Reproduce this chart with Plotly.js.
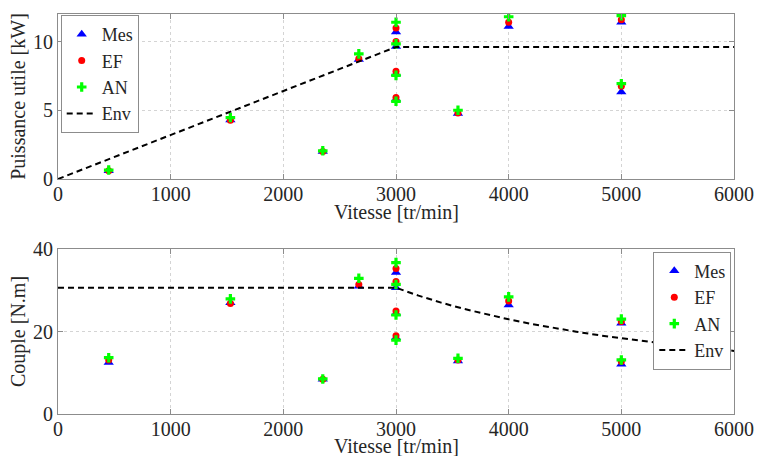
<!DOCTYPE html>
<html>
<head>
<meta charset="utf-8">
<script src="https://cdn.plot.ly/plotly-3.0.1.min.js"></script>
<style>html,body{margin:0;padding:0;background:#fff;}#chart{width:757px;height:456px;}</style>
</head>
<body>
<div id="chart"></div>
<script>
// Speeds [tr/min]
const speed = [450, 1530, 2350, 2670, 3000, 3000, 3000, 3000, 3550, 4000, 5000, 5000];
// Power [kW]
const powerMes = [0.6, 4.3, 2.0, 8.7, 10.7, 9.64, 7.65, 5.8, 4.77, 11.09, 11.4, 6.33];
const powerEF  = [0.6, 4.28, 2.0, 8.75, 10.99, 10.0, 7.83, 5.92, 4.8, 11.4, 11.59, 6.74];
const powerAN  = [0.65, 4.47, 2.05, 9.1, 11.4, 9.83, 7.54, 5.65, 5.0, 11.8, 11.88, 6.93];
// Torque [N.m]
const torqueMes = [12.5, 27.0, 8.4, 31.0, 34.3, 30.6, 24.4, 18.5, 12.85, 26.4, 22.0, 12.05];
const torqueEF  = [13.1, 26.8, 8.4, 31.4, 35.3, 32.1, 25.0, 19.0, 13.1, 27.4, 22.4, 12.7];
const torqueAN  = [13.65, 27.9, 8.5, 32.9, 36.7, 31.4, 24.0, 17.9, 13.5, 28.4, 23.0, 13.1];
// Envelope
const envPowerSpeed = [0, 3000, 6000];
const envPower = [0, 9.6, 9.6];
const envTorqueSpeed = [0, 3000, 3200, 3400, 3600, 3800, 4000, 4200, 4400, 4600, 4800, 5000, 5200, 5400, 5600, 5800, 6000];
const envTorque = [30.6, 30.6, 28.7, 27.0, 25.5, 24.2, 22.95, 21.85, 20.85, 19.95, 19.1, 18.35, 17.65, 17.0, 16.4, 15.8, 15.3];
const xTicks = [0, 1000, 2000, 3000, 4000, 5000, 6000];
const xTitle = 'Vitesse [tr/min]';

var serifFam = 'Liberation Serif';
var txtCol = '#262626';
var mk = {
  Mes: {symbol: 'triangle-up', size: 9, color: '#0000ff'},
  EF: {symbol: 'circle', size: 7, color: '#ff0000'},
  AN: {symbol: 'cross', size: 8, color: '#00ff00'}
};
function sc(x, y, name, xa, ya, lg) {
  return {x: x, y: y, name: name, type: 'scatter', mode: 'markers', xaxis: xa, yaxis: ya,
    legend: lg, marker: {symbol: mk[name].symbol, size: mk[name].size, color: mk[name].color, line: {width: 0}}};
}
function env(x, y, xa, ya, lg) {
  return {x: x, y: y, name: 'Env', type: 'scatter', mode: 'lines', xaxis: xa, yaxis: ya,
    legend: lg, line: {color: '#000', width: 2, dash: '6px,4px'}};
}
var traces = [
  sc(speed, powerMes, 'Mes', 'x', 'y', 'legend'),
  sc(speed, powerEF, 'EF', 'x', 'y', 'legend'),
  sc(speed, powerAN, 'AN', 'x', 'y', 'legend'),
  env(envPowerSpeed, envPower, 'x', 'y', 'legend'),
  sc(speed, torqueMes, 'Mes', 'x2', 'y2', 'legend2'),
  sc(speed, torqueEF, 'EF', 'x2', 'y2', 'legend2'),
  sc(speed, torqueAN, 'AN', 'x2', 'y2', 'legend2'),
  env(envTorqueSpeed, envTorque, 'x2', 'y2', 'legend2')
];
function xax(anchor) {
  return {anchor: anchor, range: [0, 6000], tickmode: 'array', tickvals: xTicks,
    showline: true, mirror: 'ticks', linecolor: '#8c8c8c', linewidth: 1,
    ticks: 'inside', ticklen: 5, tickcolor: '#8c8c8c', ticklabelstandoff: -3,
    showgrid: true, gridcolor: '#d4d4d4', griddash: 'dot', zeroline: false,
    tickfont: {family: serifFam, size: 20, color: txtCol}};
}
function yax(anchor, dom, rng, tv, title) {
  return {anchor: anchor, domain: dom, range: rng, tickmode: 'array', tickvals: tv,
    showline: true, mirror: 'ticks', linecolor: '#8c8c8c', linewidth: 1,
    ticks: 'inside', ticklen: 5, tickcolor: '#8c8c8c',
    showgrid: true, gridcolor: '#d4d4d4', griddash: 'dot', zeroline: false,
    tickfont: {family: serifFam, size: 20, color: txtCol},
    title: {text: title, font: {family: serifFam, size: 20, color: txtCol}, standoff: 2}};
}
function legendBox(x, y, xanchor) {
  return {x: x, y: y, xanchor: xanchor, yanchor: 'top', bgcolor: '#ffffff', bordercolor: '#8c8c8c', borderwidth: 1,
    font: {family: serifFam, size: 18, color: txtCol}, itemwidth: 30, tracegroupgap: 0};
}
function titleNote(y) {
  return {xref: 'paper', yref: 'paper', x: 0.5, y: y, xanchor: 'center', yanchor: 'middle', showarrow: false,
    text: xTitle, font: {family: serifFam, size: 20, color: txtCol}};
}
var layout = {
  width: 757, height: 456,
  font: {family: serifFam, size: 20, color: txtCol},
  margin: {l: 57.5, r: 22.7, t: 14, b: 42},
  paper_bgcolor: '#fff', plot_bgcolor: '#fff',
  showlegend: true,
  xaxis: xax('y'),
  yaxis: yax('x', [0.5875, 1], [0, 12], [0, 5, 10], 'Puissance utile [kW]'),
  xaxis2: xax('y2'),
  yaxis2: yax('x2', [0, 0.4125], [0, 40], [0, 20, 40], 'Couple [N.m]'),
  legend: legendBox(0.004, 0.9975, 'left'),
  legend2: legendBox(0.996, 0.406, 'right'),
  annotations: [titleNote(0.506), titleNote(-0.081)]
};
Plotly.newPlot('chart', traces, layout, {staticPlot: true, displayModeBar: false});
</script>
</body>
</html>
